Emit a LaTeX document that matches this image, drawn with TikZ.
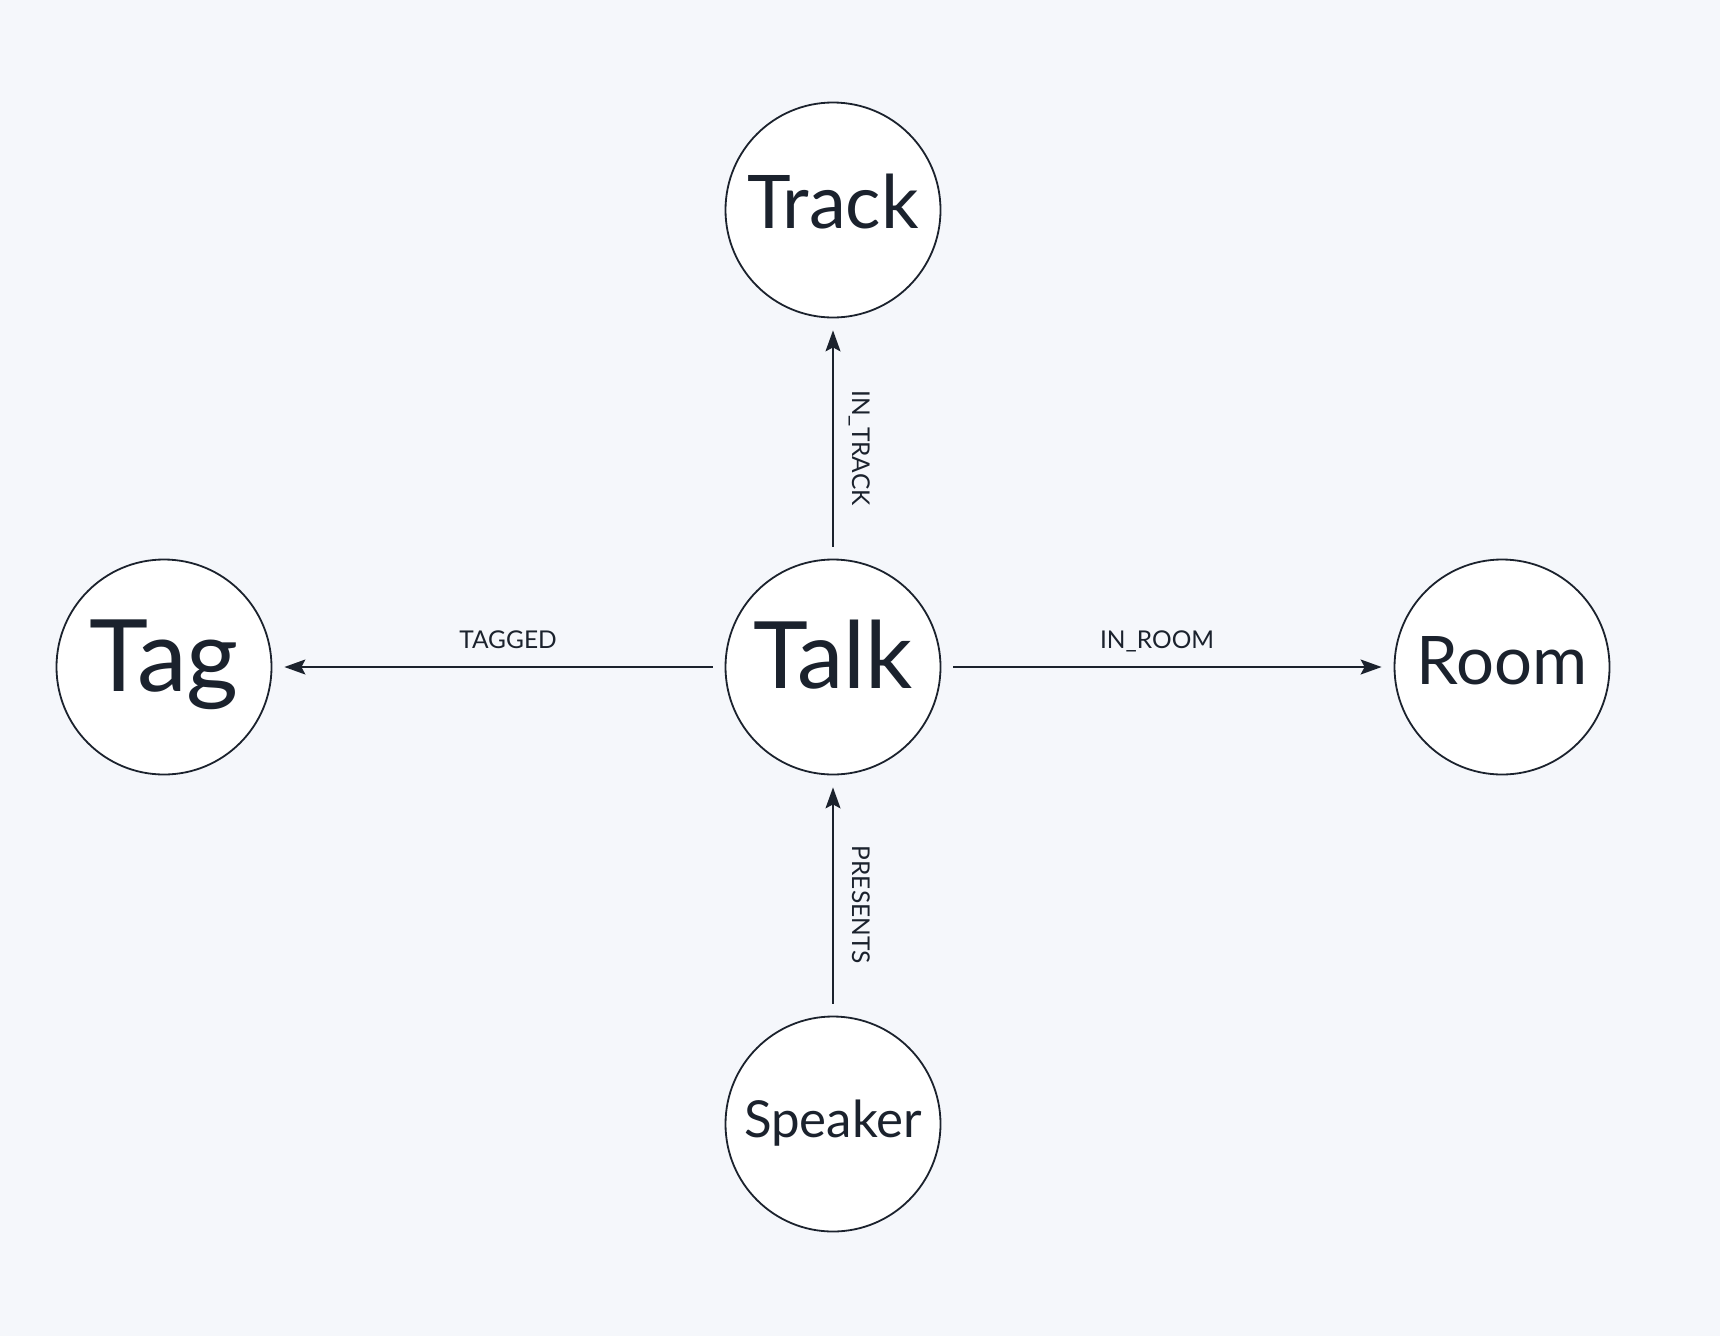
\documentclass[tikz,border=0pt]{standalone}
\usepackage{fontspec}
\setmainfont{Lato}
\usetikzlibrary{arrows.meta,calc}
\definecolor{bgc}{HTML}{F5F7FB}
\definecolor{ink}{HTML}{1B222D}
\tikzset{
  ent/.style={circle, draw=ink, fill=white, line width=1.8pt, text=ink,
    minimum size=215pt, inner sep=0pt, text depth=0pt},
  rel/.style={draw=ink, line width=1.6pt, shorten <=12pt, shorten >=12pt,
    -{Stealth[length=21pt,width=15pt,inset=4pt]}},
  lbl/.style={text=ink, font=\fontsize{24.5}{26}\selectfont, inner sep=0pt, anchor=base}
}
\begin{document}
\begin{tikzpicture}[x=1pt,y=-1pt]
\path[fill=bgc] (0,0) rectangle (1720,1336);
\useasboundingbox (0,0) rectangle (1720,1336);
\node[ent, font=\fontsize{74}{80}\selectfont, text height=36pt] (track) at (833,210) {Track};
\node[ent, font=\fontsize{93}{96}\selectfont, text height=42pt] (talk) at (833,667) {Talk};
\node[ent, font=\fontsize{100}{104}\selectfont, text height=48pt] (tag) at (164,667) {Tag};
\node[ent, font=\fontsize{67}{72}\selectfont, text height=34pt] (room) at (1502,667) {Room};
\node[ent, font=\fontsize{51}{56}\selectfont, text height=26pt] (speaker) at (833,1124) {Speaker};
\draw[rel] (talk) -- (track);
\draw[rel] (talk) -- (tag);
\draw[rel] (talk) -- (room);
\draw[rel] (speaker) -- (talk);
\path (talk.north) -- (track.south) coordinate[pos=0.461] (m1);
\path (talk.west) -- (tag.east) coordinate[pos=0.479] (m2);
\path (talk.east) -- (room.west) coordinate[pos=0.477] (m3);
\path (speaker.north) -- (talk.south) coordinate[pos=0.461] (m4);
\node[lbl, rotate=-90] (l1) at ([xshift=19pt]m1) {IN\_TRACK};
\node[lbl] (l2) at ([yshift=19pt]m2) {TAGGED};
\node[lbl] (l3) at ([yshift=19pt]m3) {IN\_ROOM};
\node[lbl, rotate=-90] (l4) at ([xshift=19pt]m4) {PRESENTS};
\end{tikzpicture}
\end{document}
